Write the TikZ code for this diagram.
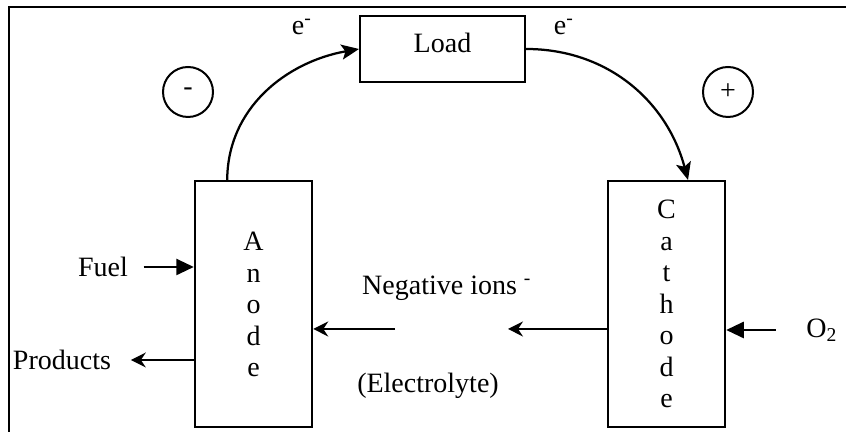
\documentclass[tikz,border=0pt]{standalone}
\usepackage{fontspec}
\setmainfont{Liberation Serif}
\usepackage{tikz}
\usetikzlibrary{arrows.meta, positioning, calc}

\begin{document}
\begin{tikzpicture}[
    x=0.4pt, y=0.4pt,
    every node/.style={font=\fontsize{11.2}{12.6}\selectfont},
    electrode/.style={draw, line width=0.8pt, align=center,
      minimum width=47pt, minimum height=98.4pt},
    loadbox/.style={draw, line width=0.8pt, text depth=5pt,
      minimum width=66pt, minimum height=26.4pt},
    pole/.style={draw, circle, line width=0.8pt, minimum size=20pt, inner sep=0pt},
    wire/.style={line width=0.9pt, -{Stealth[length=7pt,width=6pt,inset=1.5pt]}},
    feed/.style={line width=0.7pt, -{Triangle[length=7pt,width=6.5pt]}},
    flow/.style={line width=0.6pt, -{Stealth[length=6pt,width=6pt,inset=2pt]}},
  ]
  \useasboundingbox (0,0) rectangle (846,437);

  % frame (only top and left edges show)
  \draw[line width=0.9pt] (846,430) -- (9,430) -- (9,5);

  % cell parts
  \node[loadbox] (load) at (442.5,388) {Load};
  \node[electrode] (anode) at (253.5,132.5) {A\\n\\o\\d\\e};
  \node[electrode] (cathode) at (666.5,133) {C\\a\\t\\h\\o\\d\\e};

  \node[pole] (minus) at (188,345) {-};
  \node[pole] (plus) at (728,345) {+};
  \node (eleft) at (302,410) {e\textsuperscript{-}};
  \node (eright) at (564,410) {e\textsuperscript{-}};

  % external circuit
  \draw[wire] ($(anode.north west)!0.28!(anode.north east)$)
    to[out=90, in=190] (load.west);
  \draw[wire] (load.east)
    to[out=0, in=105] ($(cathode.north west)!0.68!(cathode.north east)$);

  % reactants and products
  \node (fuel) at (103,170) {Fuel};
  \node (prod) at (62,77) {Products};
  \node (o2) at (822,107) {O\textsubscript{2}};
  \draw[feed, shorten <=7*0.4pt] (fuel.east) -- (fuel.east -| anode.west);
  \draw[flow, shorten >=11*0.4pt] (prod.east -| anode.west) -- (prod.east);
  \draw[feed, shorten <=22*0.4pt] (o2.west) -- (o2.west -| cathode.east);

  % electrolyte
  \node (ions) at (447,149) {Negative ions \textsuperscript{-}};
  \node (elyte) at (428,51) {(Electrolyte)};
  \coordinate (ionL) at (395,108);
  \coordinate (ionR) at (508,108);
  \draw[flow] (ionL) -- (ionL -| anode.east);
  \draw[flow] (ionR -| cathode.west) -- (ionR);
\end{tikzpicture}
\end{document}
